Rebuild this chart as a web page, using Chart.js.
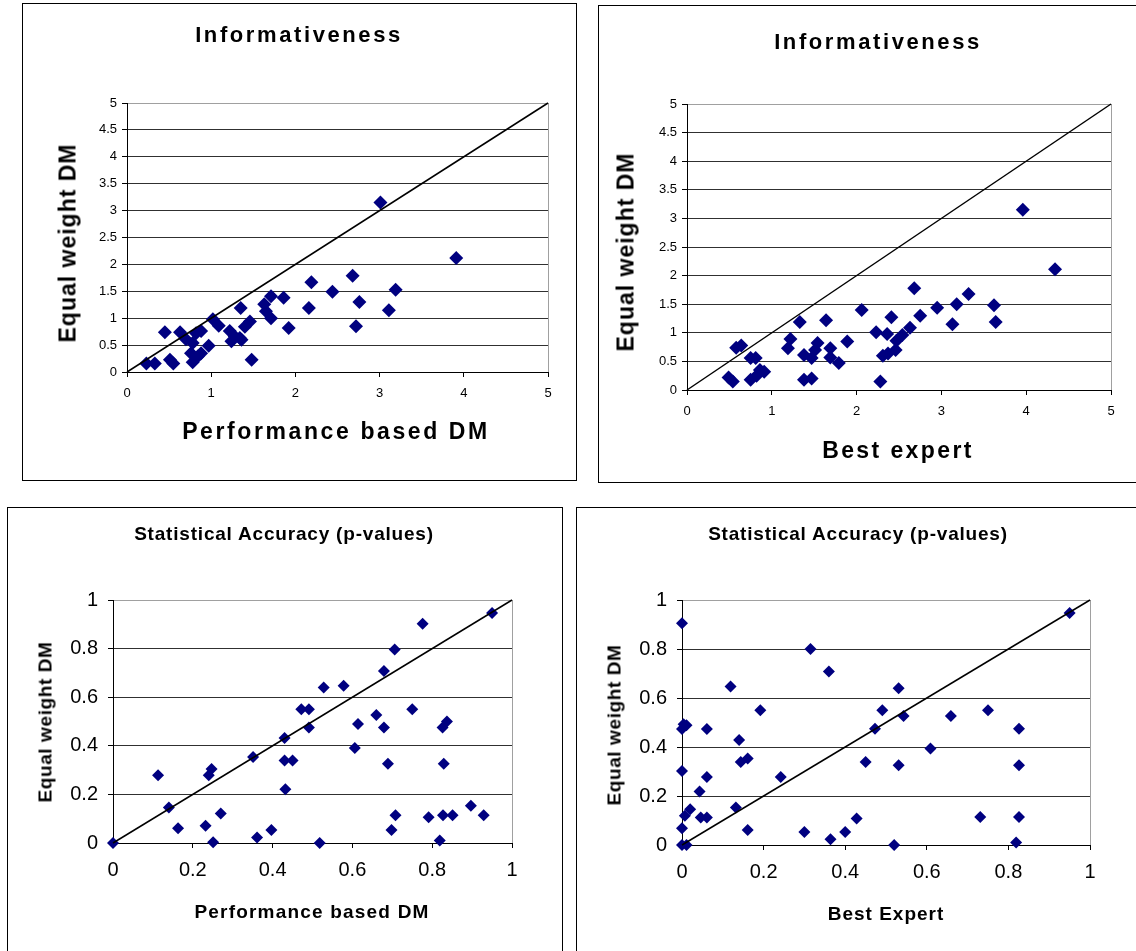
<!DOCTYPE html>
<html><head><meta charset="utf-8">
<script src="https://cdn.jsdelivr.net/npm/chart.js@4.4.1/dist/chart.umd.min.js"></script>
<style>
html,body{margin:0;padding:0;background:#fff;width:1136px;height:951px;overflow:hidden;position:relative;font-family:'Liberation Sans',Arial,sans-serif;}
.box{position:absolute;border:1px solid #000;box-sizing:border-box;}
canvas{position:absolute;}
.t{position:absolute;transform:translate(-50%,-50%);white-space:nowrap;font-weight:bold;line-height:1;color:#000;z-index:2;}
.yt{transform:translate(-50%,-50%) rotate(-90deg);}
</style></head><body>
<div class="box" style="left:22px;top:3px;width:555px;height:478px"></div>
<div class="box" style="left:598px;top:5px;width:545px;height:478px"></div>
<div class="box" style="left:7px;top:507px;width:556px;height:460px"></div>
<div class="box" style="left:576px;top:507px;width:570px;height:460px"></div>

<canvas id="c1" width="552" height="475" style="left:23px;top:4px"></canvas>
<canvas id="c2" width="537" height="475" style="left:599px;top:6px"></canvas>
<canvas id="c3" width="553" height="443" style="left:8px;top:508px"></canvas>
<canvas id="c4" width="559" height="443" style="left:577px;top:508px"></canvas>

<div class="t" style="left:299px;top:35px;font-size:22px;letter-spacing:2.6px">Informativeness</div>
<div class="t" style="left:336px;top:431px;font-size:23px;letter-spacing:2.6px">Performance based DM</div>
<div class="t yt" style="left:68px;top:243px;font-size:23px;letter-spacing:1px">Equal weight DM</div>

<div class="t" style="left:878px;top:42px;font-size:22px;letter-spacing:2.6px">Informativeness</div>
<div class="t" style="left:898px;top:450px;font-size:23px;letter-spacing:2.4px">Best expert</div>
<div class="t yt" style="left:626px;top:252px;font-size:23px;letter-spacing:1px">Equal weight DM</div>

<div class="t" style="left:284px;top:533px;font-size:19px;letter-spacing:0.8px">Statistical Accuracy (p-values)</div>
<div class="t" style="left:312px;top:911px;font-size:19px;letter-spacing:1.2px">Performance based DM</div>
<div class="t yt" style="left:45px;top:722px;font-size:19px;letter-spacing:0.6px">Equal weight DM</div>

<div class="t" style="left:858px;top:533px;font-size:19px;letter-spacing:0.8px">Statistical Accuracy (p-values)</div>
<div class="t" style="left:886px;top:913px;font-size:19px;letter-spacing:1px">Best Expert</div>
<div class="t yt" style="left:614px;top:725px;font-size:19px;letter-spacing:0.6px">Equal weight DM</div>

<script>
// ---- tick values and labels ----
const infoTicksY = [0,0.5,1,1.5,2,2.5,3,3.5,4,4.5,5];
const infoLabelsY = ['0','0.5','1','1.5','2','2.5','3','3.5','4','4.5','5'];
const infoTicksX = [0,1,2,3,4,5];
const infoLabelsX = ['0','1','2','3','4','5'];
const pTicks = [0,0.2,0.4,0.6,0.8,1];
const pLabels = ['0','0.2','0.4','0.6','0.8','1'];

// ---- diagonal reference line (y = x) ----
const diagInfo = [0,5];
const diagP = [0,1];

// ---- Informativeness: Performance based DM vs Equal weight DM ----
const infoPerfX = [0.23,0.33,0.45,0.51,0.55,0.63,0.70,0.78,0.82,0.88,0.76,0.78,0.88,0.84,0.97,1.02,1.09,1.22,1.24,1.28,1.34,1.36,1.35,1.40,1.46,1.48,1.63,1.65,1.71,1.71,1.86,1.92,2.16,2.19,2.44,2.68,2.72,2.76,3.01,3.11,3.19,3.91];
const infoPerfY = [0.16,0.16,0.74,0.23,0.16,0.74,0.61,0.54,0.72,0.76,0.35,0.18,0.35,0.29,0.49,0.98,0.86,0.76,0.57,0.66,0.63,0.60,1.19,0.84,0.94,0.23,1.26,1.13,1.41,1.00,1.38,0.82,1.19,1.67,1.49,1.79,0.85,1.30,3.15,1.15,1.53,2.12];

// ---- Informativeness: Best expert vs Equal weight DM ----
const infoBestX = [0.49,0.54,0.58,0.64,0.75,0.81,0.75,0.82,0.86,0.91,1.19,1.22,1.33,1.38,1.38,1.47,1.47,1.51,1.54,1.64,1.69,1.69,1.79,1.89,2.06,2.23,2.28,2.31,2.36,2.37,2.41,2.46,2.47,2.54,2.63,2.68,2.75,2.95,3.13,3.18,3.32,3.62,3.64,3.96,4.34];
const infoBestY = [0.22,0.15,0.74,0.78,0.56,0.56,0.18,0.25,0.35,0.32,0.73,0.89,1.19,0.61,0.18,0.20,0.56,0.70,0.82,1.22,0.73,0.57,0.47,0.85,1.40,1.01,0.15,0.60,0.98,0.64,1.27,0.70,0.86,0.96,1.09,1.78,1.30,1.44,1.15,1.50,1.68,1.48,1.19,3.15,2.11];

// ---- Statistical Accuracy: Performance based DM vs Equal weight DM ----
const pPerfX = [0,0.113,0.140,0.163,0.232,0.240,0.247,0.251,0.270,0.351,0.361,0.397,0.430,0.430,0.432,0.450,0.472,0.491,0.491,0.518,0.528,0.578,0.606,0.614,0.660,0.679,0.679,0.689,0.698,0.706,0.708,0.750,0.776,0.791,0.819,0.826,0.829,0.827,0.837,0.851,0.897,0.929,0.950];
const pPerfY = [0,0.279,0.146,0.061,0.071,0.279,0.305,0.003,0.121,0.354,0.023,0.054,0.432,0.339,0.221,0.339,0.550,0.550,0.475,0.0,0.640,0.647,0.391,0.490,0.527,0.708,0.475,0.326,0.054,0.796,0.114,0.550,0.902,0.106,0.010,0.475,0.326,0.114,0.500,0.114,0.153,0.114,0.946];

// ---- Statistical Accuracy: Best Expert vs Equal weight DM ----
const pBestX = [0,0.004,0.011,0,0,0,0,0.011,0.007,0.020,0.043,0.046,0.061,0.061,0.061,0.119,0.132,0.140,0.144,0.161,0.161,0.192,0.242,0.300,0.315,0.360,0.364,0.400,0.428,0.450,0.473,0.491,0.520,0.531,0.531,0.543,0.609,0.659,0.731,0.750,0.819,0.826,0.826,0.826,0.950];
const pBestY = [0.905,0.493,0.489,0.473,0.302,0.068,0,0,0.119,0.146,0.218,0.112,0.112,0.278,0.473,0.647,0.153,0.429,0.339,0.353,0.061,0.550,0.278,0.053,0.800,0.708,0.023,0.053,0.108,0.339,0.475,0.550,0,0.640,0.326,0.527,0.394,0.527,0.114,0.550,0.010,0.475,0.326,0.114,0.947];

const FONT = "'Liberation Sans', Arial, sans-serif";
const NAVY = '#000080';

function makeChart(id, xs, ys, diag, tX, lX, tY, lY, g) {
  const pts = xs.map((x, i) => ({x: x, y: ys[i]}));
  const line = diag.map(v => ({x: v, y: v}));
  const xMax = tX[tX.length - 1], yMax = tY[tY.length - 1];
  new Chart(document.getElementById(id), {
    type: 'scatter',
    data: {datasets: [
      {data: line, showLine: true, borderColor: '#000', borderWidth: 1.5, pointRadius: 0, fill: false, clip: false},
      {data: pts, pointStyle: 'rectRot', pointRadius: g.r, pointHoverRadius: g.r,
       backgroundColor: NAVY, borderColor: NAVY, borderWidth: 0, clip: false}
    ]},
    options: {
      responsive: false, animation: false, events: [],
      layout: {padding: {top: g.pt, right: g.pr, left: 0, bottom: 0}},
      plugins: {legend: {display: false}, tooltip: {enabled: false}, title: {display: false}},
      scales: {
        x: {
          type: 'linear', min: tX[0], max: xMax,
          afterBuildTicks: s => { s.ticks = tX.map(v => ({value: v})); },
          afterFit: s => { s.height = g.xh; },
          border: {display: true, color: '#000', width: 1},
          grid: {drawOnChartArea: true, drawTicks: true, tickLength: 5, tickColor: '#000', lineWidth: 1,
                 color: c => (c.tick && c.tick.value === xMax) ? '#a0a0a0' : 'rgba(0,0,0,0)'},
          ticks: {color: '#000', font: {family: FONT, size: g.fs}, padding: g.xp, maxRotation: 0, autoSkip: false,
                  callback: v => lX[tX.indexOf(v)]}
        },
        y: {
          type: 'linear', min: tY[0], max: yMax,
          afterBuildTicks: s => { s.ticks = tY.map(v => ({value: v})); },
          afterFit: s => { s.width = g.yw; },
          border: {display: true, color: '#000', width: 1},
          grid: {drawOnChartArea: true, drawTicks: true, tickLength: 5, tickColor: '#000', lineWidth: 1,
                 color: c => (c.tick && c.tick.value === yMax) ? '#a0a0a0' : ((c.tick && c.tick.value === tY[0]) ? 'rgba(0,0,0,0)' : '#303030')},
          ticks: {color: '#000', font: {family: FONT, size: g.fs}, padding: g.yp, autoSkip: false,
                  callback: v => lY[tY.indexOf(v)]}
        }
      }
    }
  });
}

makeChart('c1', infoPerfX, infoPerfY, diagInfo, infoTicksX, infoLabelsX, infoTicksY, infoLabelsY,
  {pt: 99, pr: 27, yw: 104, xh: 107, fs: 13, xp: 9, yp: 5, r: 7});
makeChart('c2', infoBestX, infoBestY, diagInfo, infoTicksX, infoLabelsX, infoTicksY, infoLabelsY,
  {pt: 98, pr: 25, yw: 88, xh: 91, fs: 13, xp: 9, yp: 5, r: 7});
makeChart('c3', pPerfX, pPerfY, diagP, pTicks, pLabels, pTicks, pLabels,
  {pt: 92, pr: 49, yw: 105, xh: 108, fs: 20, xp: 10, yp: 10, r: 6});
makeChart('c4', pBestX, pBestY, diagP, pTicks, pLabels, pTicks, pLabels,
  {pt: 92, pr: 46, yw: 105, xh: 106, fs: 20, xp: 10, yp: 10, r: 6});
</script>
</body></html>
